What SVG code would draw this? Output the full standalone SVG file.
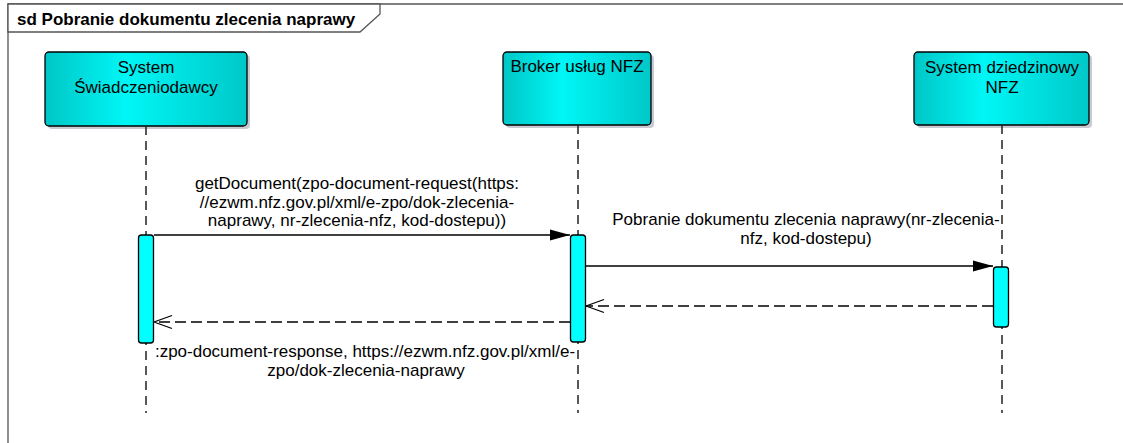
<svg xmlns="http://www.w3.org/2000/svg" width="1123" height="443" viewBox="0 0 1123 443">
<style>
text{font-family:"Liberation Sans",Arial,sans-serif;font-size:17px;fill:#000}
.title{font-weight:bold}
.frame{fill:none;stroke:#555;stroke-width:1.3}
.tab{fill:#fff;stroke:#555;stroke-width:1.3}
.box{fill:url(#g);stroke:#000;stroke-width:1.3}
.shadow{fill:#c9c9d2}
.life{stroke:#222;stroke-width:1.5;stroke-dasharray:9,6;fill:none}
.act{fill:#00ffff;stroke:#000;stroke-width:1.3}
.msg{stroke:#000;stroke-width:1.3;fill:none}
.ret{stroke:#000;stroke-width:1.3;fill:none;stroke-dasharray:11,5}
</style>
<defs>
<linearGradient id="g" x1="0" y1="0" x2="1" y2="0">
<stop offset="0" stop-color="#00c6c6"/>
<stop offset="0.4" stop-color="#00f6f6"/>
<stop offset="1" stop-color="#00c8c8"/>
</linearGradient>
<marker id="fill" markerWidth="20" markerHeight="12" refX="20" refY="6" orient="auto" markerUnits="userSpaceOnUse">
<path d="M0,0.5 L20,6 L0,11.5 Z" fill="#000"/>
</marker>
<marker id="open" markerWidth="20" markerHeight="16" refX="19" refY="8" orient="auto" markerUnits="userSpaceOnUse">
<path d="M1,1.5 L19,8 L1,14.5" fill="none" stroke="#000" stroke-width="1.3"/>
</marker>
</defs>
<rect width="1123" height="443" fill="#fff"/>
<g id="frame">
<path class="frame" d="M8,460 V4 H1140"/>
<path class="tab" d="M8,4 H380 V14 L360,32 H8 Z"/>
<text class="title" x="17" y="25">sd Pobranie dokumentu zlecenia naprawy</text>
</g>
<g id="lifeline-system-swiadczeniodawcy">
<rect class="shadow" x="48" y="55" width="202" height="74" rx="4"/>
<rect class="box" x="45" y="52" width="202" height="74" rx="4"/>
<text x="146" y="73" text-anchor="middle">System</text>
<text x="146" y="93" text-anchor="middle">Świadczeniodawcy</text>
<line class="life" x1="146" y1="126" x2="146" y2="413"/>
</g>
<g id="lifeline-broker">
<rect class="shadow" x="506" y="55" width="148" height="73" rx="4"/>
<rect class="box" x="503" y="52" width="148" height="73" rx="4"/>
<text x="577" y="72" text-anchor="middle">Broker usług NFZ</text>
<line class="life" x1="578" y1="125" x2="578" y2="413"/>
</g>
<g id="lifeline-system-dziedzinowy">
<rect class="shadow" x="917" y="55" width="175" height="73" rx="4"/>
<rect class="box" x="914" y="52" width="175" height="73" rx="4"/>
<text x="1002" y="73" text-anchor="middle">System dziedzinowy</text>
<text x="1002" y="93" text-anchor="middle">NFZ</text>
<line class="life" x1="1002" y1="125" x2="1002" y2="413"/>
</g>
<g id="activations">
<rect class="act" x="138.5" y="235" width="15" height="108" rx="3"/>
<rect class="act" x="570.5" y="235" width="15" height="107" rx="3"/>
<rect class="act" x="993.5" y="267" width="15" height="60" rx="3"/>
</g>
<g id="connectors">
<line class="msg" x1="154" y1="235" x2="570" y2="235" marker-end="url(#fill)"/>
<line class="msg" x1="586" y1="266" x2="993" y2="266" marker-end="url(#fill)"/>
<line class="ret" x1="993" y1="306" x2="586" y2="306" marker-end="url(#open)"/>
<line class="ret" x1="570" y1="322" x2="154" y2="322" marker-end="url(#open)"/>
</g>
<g id="labels">
<text x="357" y="189" text-anchor="middle">getDocument(zpo-document-request(https:</text>
<text x="357" y="208" text-anchor="middle">//ezwm.nfz.gov.pl/xml/e-zpo/dok-zlecenia-</text>
<text x="357" y="226" text-anchor="middle">naprawy, nr-zlecenia-nfz, kod-dostepu))</text>
<text x="806" y="225" text-anchor="middle">Pobranie dokumentu zlecenia naprawy(nr-zlecenia-</text>
<text x="806" y="244" text-anchor="middle">nfz, kod-dostepu)</text>
<text x="365" y="357" text-anchor="middle">:zpo-document-response, https://ezwm.nfz.gov.pl/xml/e-</text>
<text x="366" y="376" text-anchor="middle">zpo/dok-zlecenia-naprawy</text>
</g>
</svg>
